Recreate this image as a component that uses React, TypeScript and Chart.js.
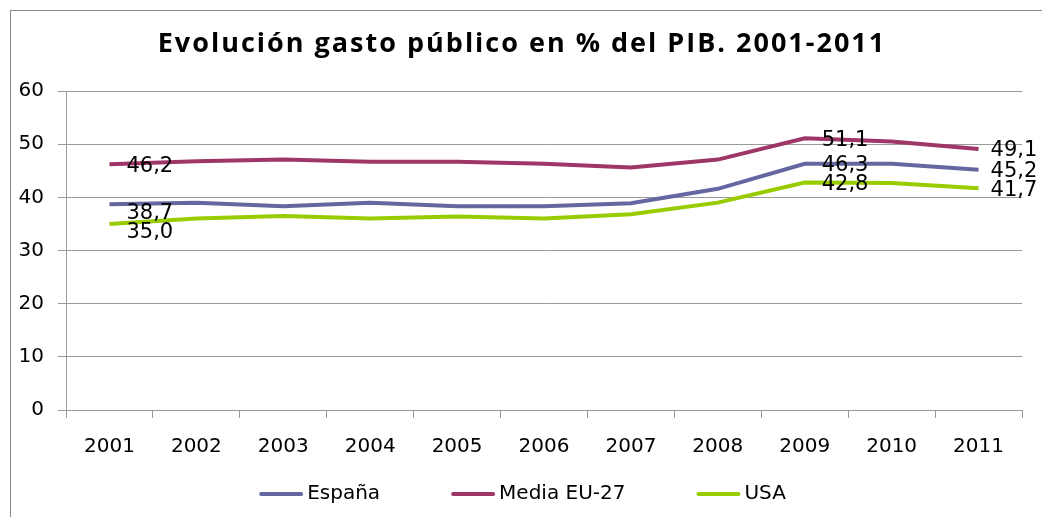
import React, { useEffect, useRef } from "react";
import { Chart, registerables } from "chart.js";

Chart.register(...registerables);

const years = ["2001", "2002", "2003", "2004", "2005", "2006", "2007", "2008", "2009", "2010", "2011"];
const espana = [38.7, 39.0, 38.3, 39.0, 38.3, 38.3, 38.9, 41.6, 46.3, 46.3, 45.2];
const mediaUE27 = [46.2, 46.8, 47.1, 46.7, 46.7, 46.3, 45.6, 47.1, 51.1, 50.5, 49.1];
const usa = [35.0, 36.0, 36.5, 36.0, 36.4, 36.0, 36.8, 39.0, 42.8, 42.7, 41.7];
const seriesNames = ["España", "Media EU-27", "USA"];
const labelledIndexes = [0, 8, 10];
const yMin = 0;
const yMax = 60;
const yStep = 10;
const titleText = "Evolución gasto público en % del PIB. 2001-2011";

const COLORS = ["#6467A0", "#9E3767", "#99CC00"];
const GRID = "#9a9a9a";
const FONT = "'DejaVu Sans', sans-serif";

const customTitle = {
  id: "customTitle",
  afterDraw(chart: any) {
    const ctx = chart.ctx;
    ctx.save();
    ctx.font = `bold 27px 'Open Sans', sans-serif`;
    try {
      (ctx as any).letterSpacing = "2px";
    } catch (e) {}
    ctx.fillStyle = "#000";
    ctx.textAlign = "center";
    ctx.textBaseline = "middle";
    ctx.fillText(titleText, chart.width / 2 + 1, 44);
    ctx.restore();
  },
};

const valueLabels = {
  id: "valueLabels",
  afterDatasetsDraw(chart: any) {
    const ctx = chart.ctx;
    ctx.save();
    ctx.font = `21px ${FONT}`;
    ctx.fillStyle = "#000";
    ctx.textAlign = "left";
    ctx.textBaseline = "middle";
    const lastIdx = chart.data.labels.length - 1;
    chart.data.datasets.forEach((ds: any, di: number) => {
      const meta = chart.getDatasetMeta(di);
      labelledIndexes.forEach((i) => {
        const pt = meta.data[i];
        if (!pt) return;
        const v = ds.data[i] as number;
        const dy = i === 0 && di !== 1 ? 9 : 2;
        const dx = i === lastIdx ? 12 : 17;
        ctx.fillText(v.toFixed(1).replace(".", ","), pt.x + dx, pt.y + dy);
      });
    });
    ctx.restore();
  },
};

const customLegend = {
  id: "customLegend",
  afterDraw(chart: any) {
    const ctx = chart.ctx;
    ctx.save();
    ctx.font = `20px ${FONT}`;
    const lineW = 42;
    const textGap = 5;
    const itemGap = 72;
    const items = chart.data.datasets.map((ds: any) => ({
      text: ds.label,
      color: ds.borderColor,
      w: lineW + textGap + ctx.measureText(ds.label).width,
    }));
    const total = items.reduce((s: number, it: any) => s + it.w, 0) + itemGap * (items.length - 1);
    let x = chart.width / 2 + 2 - total / 2;
    const y = 494;
    items.forEach((it: any) => {
      ctx.strokeStyle = it.color;
      ctx.lineWidth = 4;
      ctx.lineCap = "round";
      ctx.beginPath();
      ctx.moveTo(x + 1, y);
      ctx.lineTo(x + lineW - 1, y);
      ctx.stroke();
      ctx.fillStyle = "#000";
      ctx.textAlign = "left";
      ctx.textBaseline = "middle";
      ctx.fillText(it.text, x + lineW + textGap, y);
      x += it.w + itemGap;
    });
    ctx.restore();
  },
};

export default function App() {
  const ref = useRef<HTMLCanvasElement | null>(null);

  useEffect(() => {
    if (!ref.current) return;
    const data = [espana, mediaUE27, usa];
    const chart = new Chart(ref.current, {
      type: "line",
      data: {
        labels: years,
        datasets: data.map((d, i) => ({
          label: seriesNames[i],
          data: d,
          borderColor: COLORS[i],
          backgroundColor: COLORS[i],
          borderWidth: 4,
          pointRadius: 0,
          tension: 0,
          fill: false,
        })),
      },
      options: {
        animation: false,
        responsive: false,
        maintainAspectRatio: false,
        layout: { padding: { left: 10, right: 20, top: 91, bottom: 41 } },
        plugins: {
          legend: { display: false },
          tooltip: { enabled: false },
          title: { display: false },
        },
        scales: {
          x: {
            offset: true,
            grid: {
              offset: true,
              drawOnChartArea: false,
              drawTicks: true,
              tickLength: 8,
              color: GRID,
            },
            border: { color: GRID, width: 1 },
            ticks: { color: "#000", font: { family: FONT, size: 20 }, padding: 17, maxRotation: 0 },
          },
          y: {
            min: yMin,
            max: yMax,
            grid: { color: GRID, tickLength: 8, drawTicks: true },
            border: { color: GRID, width: 1 },
            ticks: { stepSize: yStep, color: "#000", font: { family: FONT, size: 20 }, padding: 14 },
            afterFit: (scale: any) => {
              scale.width = 56;
            },
          },
        },
      },
      plugins: [valueLabels, customLegend, customTitle],
    });
    return () => chart.destroy();
  }, []);

  return (
    <div style={{ position: "fixed", left: 0, top: 0, width: 1042, height: 517, overflow: "hidden", background: "#fff" }}>
      <div
        style={{
          position: "absolute",
          left: 10,
          top: 10,
          width: 1100,
          height: 600,
          border: "1px solid #8a8a8a",
          boxSizing: "border-box",
        }}
      />
      <canvas ref={ref} width={1042} height={517} style={{ position: "absolute", left: 0, top: 0, width: 1042, height: 517 }} />
    </div>
  );
}
